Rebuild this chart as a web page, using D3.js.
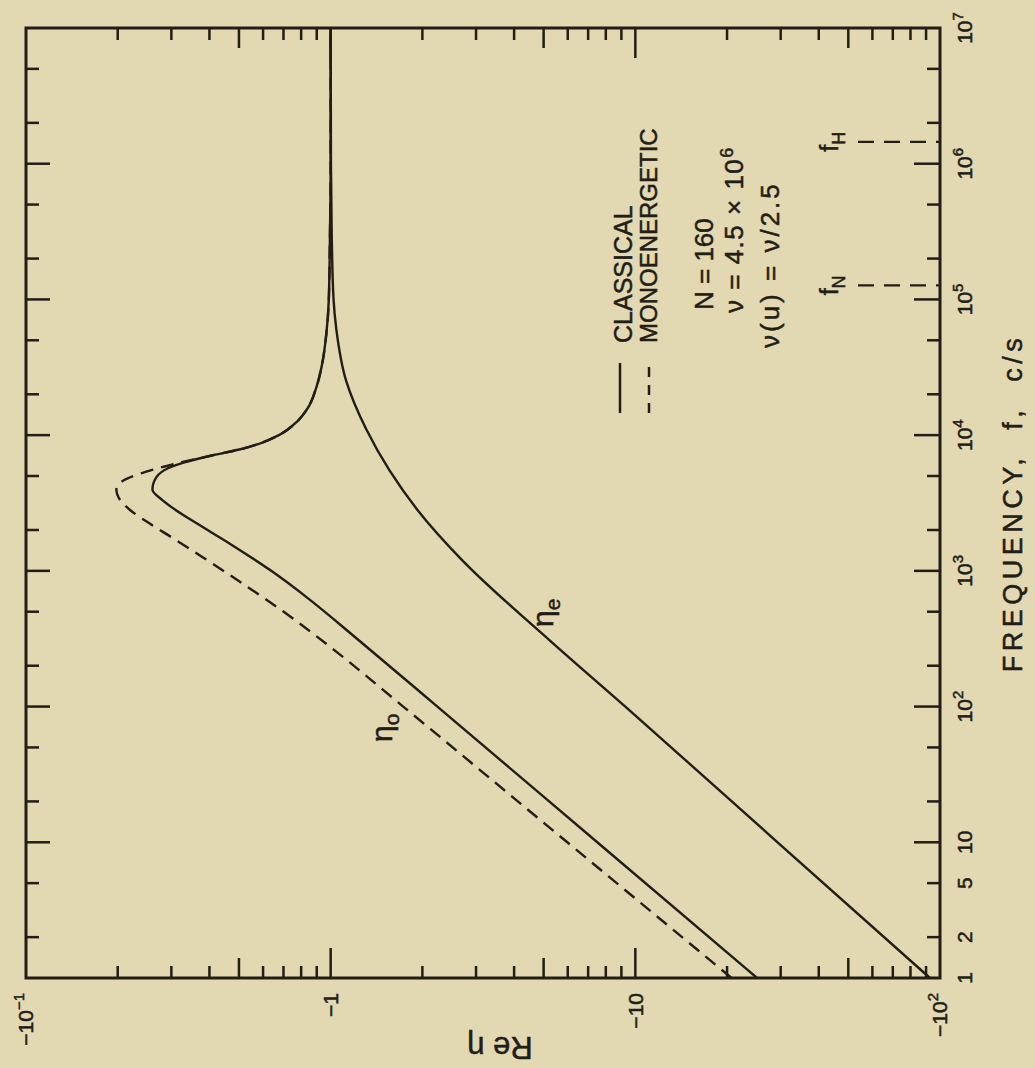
<!DOCTYPE html>
<html>
<head>
<meta charset="utf-8">
<script src="https://cdn.jsdelivr.net/npm/d3@7"></script>
<style>
  body { margin: 0; background: #e2d8b1; }
  svg { display: block; font-family: "Liberation Sans", Arial, sans-serif; }
  svg text { stroke: #221d17; stroke-width: 0.5px; }
</style>
</head>
<body>
<svg id="chart" width="1035" height="1068"></svg>
<script>
// eta_o, classical (solid)
const freqOClassical = [1, 10, 100, 316, 630, 1000, 1580, 2240, 2820, 3310, 3980, 4900, 5750, 6300, 7080, 7940, 8900, 10000, 12600, 15800, 22400, 31600, 56000, 1e5, 3.2e5, 1e6, 1e7];
const etaOClassical = [-25.1, -7.50, -2.24, -1.22, -0.841, -0.638, -0.468, -0.363, -0.309, -0.281, -0.260, -0.268, -0.295, -0.331, -0.407, -0.513, -0.603, -0.676, -0.776, -0.841, -0.897, -0.933, -0.968, -0.986, -0.995, -1, -1];

// eta_o, monoenergetic (dashed)
const freqOMono = [1, 10, 100, 251, 501, 794, 1260, 1780, 2240, 2820, 3310, 3980, 4570, 5250, 5750, 6310, 7080, 7940, 8910, 10000, 12600, 15800, 22400, 31600, 56000, 1e5, 3.2e5, 1e6, 1e7];
const etaOMono = [-20.7, -5.98, -1.73, -1.05, -0.700, -0.519, -0.380, -0.299, -0.254, -0.219, -0.204, -0.198, -0.207, -0.240, -0.275, -0.324, -0.407, -0.513, -0.603, -0.676, -0.776, -0.841, -0.897, -0.933, -0.968, -0.986, -0.995, -1, -1];

// eta_e
const freqE = [1, 10, 100, 300, 1200, 2800, 5500, 11000, 25000, 60000, 1e5, 3e5, 1e6, 1e7];
const etaE = [-92.7, -29.3, -9.27, -5.3, -2.7, -1.93, -1.56, -1.31, -1.125, -1.044, -1.022, -1.008, -1.002, -1];

// axes
const freqTicks = [2, 5, 10, 20, 50, 100, 200, 500, 1e3, 2e3, 5e3, 1e4, 2e4, 5e4, 1e5, 2e5, 5e5, 1e6, 2e6, 5e6];
const freqLabelValues = [1, 2, 5, 10, 1e2, 1e3, 1e4, 1e5, 1e6, 1e7];
const etaTicks = [-0.2, -0.3, -0.4, -0.5, -0.6, -0.7, -0.8, -0.9, -1, -2, -3, -4, -5, -6, -7, -8, -9, -10, -20, -30, -40, -50, -60, -70, -80, -90];
const etaLabelValues = [-0.1, -1, -10, -100];

// f_N, f_H markers
const markerNames = ["N", "H"];
const markerFreqs = [1.27e5, 1.45e6];

const W = 1035, H = 1068;
const ink = "#221d17";

const svg = d3.select("#chart");
svg.append("rect").attr("width", W).attr("height", H).attr("fill", "#e2d8b1");

// the chart is drawn upright and then turned a quarter turn to the left
const g = svg.append("g").attr("transform", `translate(0,${H}) rotate(-90)`);

const x = d3.scaleLog().domain([1, 1e7]).range([90, 1040]);
const y = d3.scaleLog().domain([-0.1, -100]).range([26, 940]);
const [x0, x1] = x.range();
const [y0, y1] = y.range();

const isDecade = v => Math.abs(Math.log10(Math.abs(v)) - Math.round(Math.log10(Math.abs(v)))) < 1e-6;
const firstDigit = v => Math.round(Math.abs(v) / Math.pow(10, Math.floor(Math.log10(Math.abs(v)) + 1e-9)));

// frequency ticks on both long edges
const fLen = f => isDecade(f) ? 24 : 13;
g.selectAll(".ftick-top").data(freqTicks).enter().append("line")
    .attr("x1", d => x(d)).attr("x2", d => x(d))
    .attr("y1", y0).attr("y2", d => y0 + fLen(d))
    .attr("stroke", ink).attr("stroke-width", 2.5);
g.selectAll(".ftick-bot").data(freqTicks).enter().append("line")
    .attr("x1", d => x(d)).attr("x2", d => x(d))
    .attr("y1", y1).attr("y2", d => y1 - fLen(d) - (isDecade(d) ? 2 : 0))
    .attr("stroke", ink).attr("stroke-width", 2.5);

// Re eta ticks on both short edges
const eLen = v => isDecade(v) ? 30 : (firstDigit(v) === 5 ? 20 : 12);
g.selectAll(".etick-l").data(etaTicks).enter().append("line")
    .attr("y1", d => y(d)).attr("y2", d => y(d))
    .attr("x1", x0).attr("x2", d => x0 + eLen(d))
    .attr("stroke", ink).attr("stroke-width", 2.5);
g.selectAll(".etick-r").data(etaTicks).enter().append("line")
    .attr("y1", d => y(d)).attr("y2", d => y(d))
    .attr("x1", x1).attr("x2", d => x1 - eLen(d))
    .attr("stroke", ink).attr("stroke-width", 2.5);

// frame
g.append("rect")
    .attr("x", x0).attr("y", y0)
    .attr("width", x1 - x0).attr("height", y1 - y0)
    .attr("fill", "none").attr("stroke", ink).attr("stroke-width", 3);

// frequency labels
const fLab = g.selectAll(".flab").data(freqLabelValues).enter().append("text")
    .attr("x", d => x(d)).attr("y", 972)
    .attr("text-anchor", "middle")
    .attr("font-size", 21).attr("fill", ink);
fLab.append("tspan").text(d => d <= 10 ? String(d) : "10");
fLab.filter(d => d > 10).append("tspan")
    .attr("dy", -9).attr("font-size", 15)
    .text(d => Math.round(Math.log10(d)));

// Re eta labels
const eLab = g.selectAll(".elab").data(etaLabelValues).enter().append("text")
    .attr("x", x0 - 15).attr("y", d => y(d)).attr("dy", "0.35em")
    .attr("text-anchor", "end")
    .attr("font-size", 21).attr("fill", ink);
eLab.append("tspan").text(d => Math.abs(d) === 1 ? "\u22121" : "\u221210");
eLab.filter(d => Math.abs(d) !== 1 && Math.abs(d) !== 10).append("tspan")
    .attr("dy", -9).attr("font-size", 15)
    .text(d => Math.abs(d) < 1 ? "\u22121" : "2");

// axis titles
g.append("text")
    .attr("x", (x0 + x1) / 2).attr("y", 1022)
    .attr("text-anchor", "middle")
    .attr("font-size", 27).attr("letter-spacing", 4.5)
    .attr("fill", ink).style("white-space", "pre")
    .text("FREQUENCY,  f,  c/s");

g.append("text")
    .attr("transform", `translate(31,${500}) rotate(-90)`)
    .attr("text-anchor", "middle")
    .attr("font-size", 31).attr("fill", ink)
    .text("Re \u03b7");

// curves
const line = d3.line()
    .x(d => x(d[0]))
    .y(d => y(d[1]))
    .curve(d3.curveMonotoneX);

g.append("path")
    .attr("d", line(d3.zip(freqE, etaE)))
    .attr("fill", "none").attr("stroke", ink).attr("stroke-width", 2.4);
g.append("path")
    .attr("d", line(d3.zip(freqOClassical, etaOClassical)))
    .attr("fill", "none").attr("stroke", ink).attr("stroke-width", 2.4);
g.append("path")
    .attr("d", line(d3.zip(freqOMono, etaOMono)))
    .attr("fill", "none").attr("stroke", ink).attr("stroke-width", 2.4)
    .attr("stroke-dasharray", "13,8");

// curve names
const etaName = (gx, gy, sub) => {
    const t = g.append("text").attr("x", gx).attr("y", gy)
        .attr("font-size", 30).attr("fill", ink);
    t.append("tspan").text("\u03b7");
    t.append("tspan").attr("dy", 7).attr("font-size", 21).text(sub);
};
etaName(326, 392, "o");
etaName(441, 553, "e");

// legend
const legendTop = 655, legendEnd = 705;
g.append("line").attr("x1", legendTop).attr("x2", legendEnd)
    .attr("y1", 620).attr("y2", 620)
    .attr("stroke", ink).attr("stroke-width", 2.5);
g.append("line").attr("x1", legendTop).attr("x2", legendEnd)
    .attr("y1", 649).attr("y2", 649)
    .attr("stroke", ink).attr("stroke-width", 2.5)
    .attr("stroke-dasharray", "10,8");
g.append("text").attr("x", 725).attr("y", 632)
    .attr("font-size", 25).attr("fill", ink).text("CLASSICAL");
g.append("text").attr("x", 725).attr("y", 657)
    .attr("font-size", 24).attr("fill", ink).text("MONOENERGETIC");

// parameters
g.append("text").attr("x", 758).attr("y", 713)
    .attr("font-size", 26).attr("fill", ink).text("N = 160");
const nuText = g.append("text").attr("x", 755).attr("y", 743)
    .attr("font-size", 26).attr("letter-spacing", 1.5).attr("fill", ink);
nuText.append("tspan").text("\u03bd = 4.5 \u00d7 10");
nuText.append("tspan").attr("dy", -10).attr("font-size", 18).text("6");
g.append("text").attr("x", 720).attr("y", 779)
    .attr("font-size", 26).attr("letter-spacing", 3).attr("fill", ink)
    .text("\u03bd(u) = \u03bd/2.5");

// f_N and f_H
markerFreqs.forEach((f, i) => {
    g.append("line")
        .attr("x1", x(f)).attr("x2", x(f))
        .attr("y1", 858).attr("y2", y1)
        .attr("stroke", ink).attr("stroke-width", 2.3)
        .attr("stroke-dasharray", "16,10");
    const t = g.append("text").attr("x", x(f)).attr("y", 838)
        .attr("text-anchor", "middle")
        .attr("font-size", 25).attr("fill", ink);
    t.append("tspan").text("f");
    t.append("tspan").attr("dy", 7).attr("font-size", 18).text(markerNames[i]);
});
</script>
</body>
</html>
